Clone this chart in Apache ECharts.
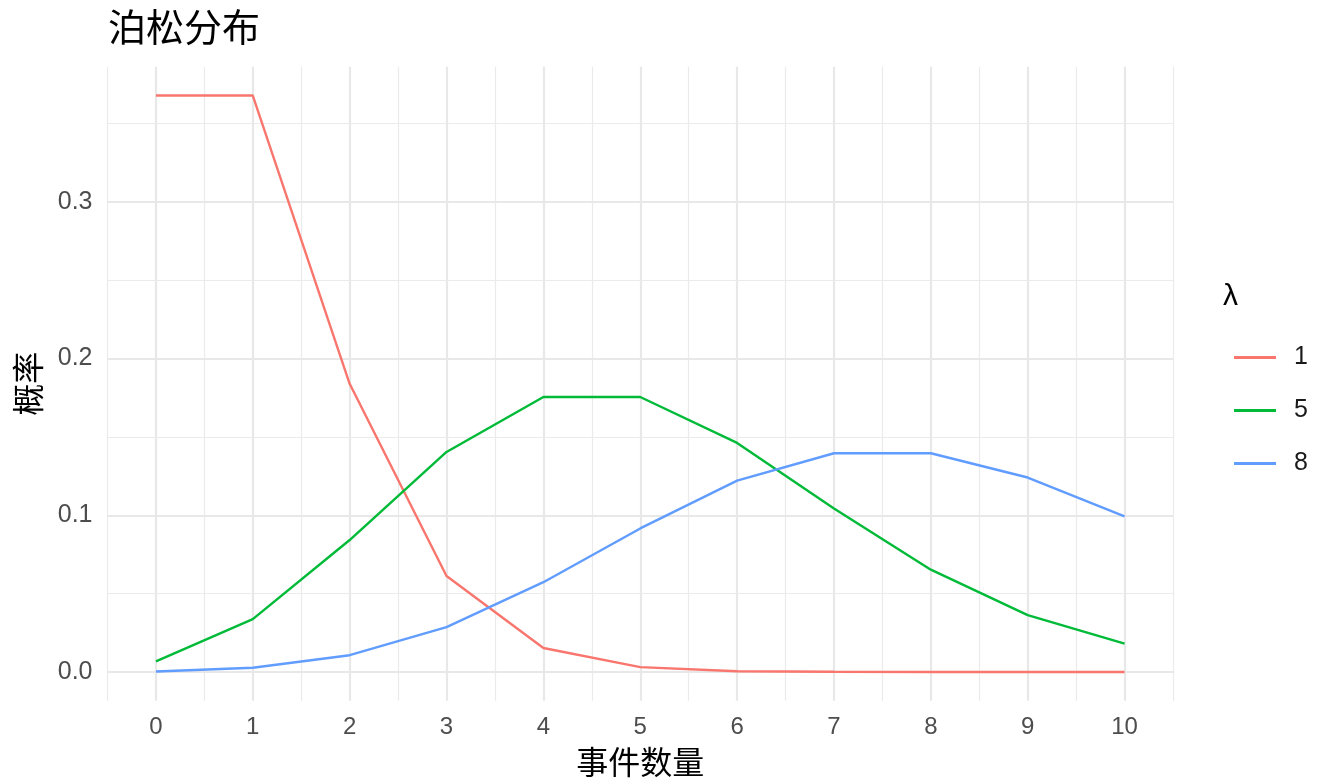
<!DOCTYPE html>
<html lang="zh-CN">
<head>
  <meta http-equiv="Content-Type" content="text/html; charset=UTF-8">
  <title>泊松分布</title>
  <style>html, body { margin: 0; padding: 0; background: #fff; }</style>
</head>
<body>
  <div id="chart" style="width: 1344px; height: 784px;"></div>
  <script src="https://cdn.jsdelivr.net/npm/echarts@6/dist/echarts.min.js"></script>
  <script>
    // 数据
    const counts = [0, 1, 2, 3, 4, 5, 6, 7, 8, 9, 10];
    const lambdas = ['1', '5', '8'];
    const prob1 = [0.3679, 0.3679, 0.1839, 0.0613, 0.0153, 0.0031, 0.0005, 0.0001, 0.0000, 0.0000, 0.0000];
    const prob5 = [0.0067, 0.0337, 0.0842, 0.1404, 0.1755, 0.1755, 0.1462, 0.1044, 0.0653, 0.0363, 0.0181];
    const prob8 = [0.0003, 0.0027, 0.0107, 0.0286, 0.0573, 0.0916, 0.1221, 0.1396, 0.1396, 0.1241, 0.0993];
    const yTicks = [0, 0.1, 0.2, 0.3];
    const yMinor = [0.05, 0.15, 0.25, 0.35];
    const xMinor = [-0.5, 0.5, 1.5, 2.5, 3.5, 4.5, 5.5, 6.5, 7.5, 8.5, 9.5, 10.5];
    const colors = ['#F8766D', '#00BA38', '#619CFF'];

    const FONT = 'Liberation Sans, "Noto Sans CJK SC", sans-serif';
    const pairs = (ys) => counts.map((x, i) => [x, ys[i]]);

    // 网格线用 markLine 画，主线粗一些
    const minorStyle = { type: 'solid', width: 1.2, color: '#ebebeb' };
    const majorStyle = { type: 'solid', width: 2.2, color: '#e8e8e8' };
    const gridLines = [].concat(
      xMinor.map(v => ({ xAxis: v, lineStyle: minorStyle })),
      counts.map(v => ({ xAxis: v, lineStyle: majorStyle })),
      yMinor.map(v => ({ yAxis: v, lineStyle: minorStyle })),
      yTicks.map(v => ({ yAxis: v, lineStyle: majorStyle }))
    );

    const myChart = echarts.init(document.getElementById('chart'));
    const option = {
      animation: false,
      backgroundColor: '#fff',
      title: {
        text: '泊松分布',
        left: 103,
        top: 7,
        textStyle: { fontFamily: FONT, fontSize: 38, fontWeight: 'normal', color: '#000' }
      },
      legend: {
        orient: 'vertical',
        left: 1229,
        top: 340,
        icon: 'rect',
        itemWidth: 42,
        itemHeight: 3,
        itemGap: 28,
        data: lambdas,
        textStyle: { fontFamily: FONT, fontSize: 25, color: '#1a1a1a', padding: [0, 0, 0, 13] }
      },
      graphic: [{
        type: 'text',
        left: 1223,
        top: 282,
        style: { text: 'λ', font: '30px ' + FONT, fill: '#000' }
      }],
      grid: { left: 107.5, right: 171, top: 66.7, bottom: 83.2, outerBoundsMode: 'none', containLabel: false },
      xAxis: {
        type: 'value',
        min: -0.5,
        max: 10.5,
        name: '事件数量',
        nameLocation: 'middle',
        nameGap: 48,
        nameTextStyle: { fontFamily: FONT, fontSize: 32, color: '#000' },
        axisLine: { show: false },
        axisTick: { show: false },
        splitLine: { show: false },
        axisLabel: {
          customValues: counts,
          margin: 15,
          fontFamily: FONT,
          fontSize: 24,
          color: '#4d4d4d'
        }
      },
      yAxis: {
        type: 'value',
        min: -0.0184,
        max: 0.3863,
        name: '概率',
        nameLocation: 'middle',
        nameRotate: 90,
        nameGap: 60,
        nameTextStyle: { fontFamily: FONT, fontSize: 32, color: '#000' },
        axisLine: { show: false },
        axisTick: { show: false },
        splitLine: { show: false },
        axisLabel: {
          customValues: yTicks,
          formatter: v => v.toFixed(1),
          margin: 15,
          fontFamily: FONT,
          fontSize: 25,
          color: '#4d4d4d'
        }
      },
      series: [
        {
          name: 'grid',
          type: 'line',
          data: [],
          z: 1,
          silent: true,
          markLine: {
            z: 1,
            silent: true,
            symbol: 'none',
            animation: false,
            label: { show: false },
            emphasis: { disabled: true },
            data: gridLines
          }
        }
      ].concat([prob1, prob5, prob8].map((ys, i) => ({
        name: lambdas[i],
        type: 'line',
        data: pairs(ys),
        symbol: 'none',
        z: 10,
        color: colors[i],
        lineStyle: { width: 2.4, color: colors[i] }
      })))
    };
    myChart.setOption(option);
  </script>
</body>
</html>
